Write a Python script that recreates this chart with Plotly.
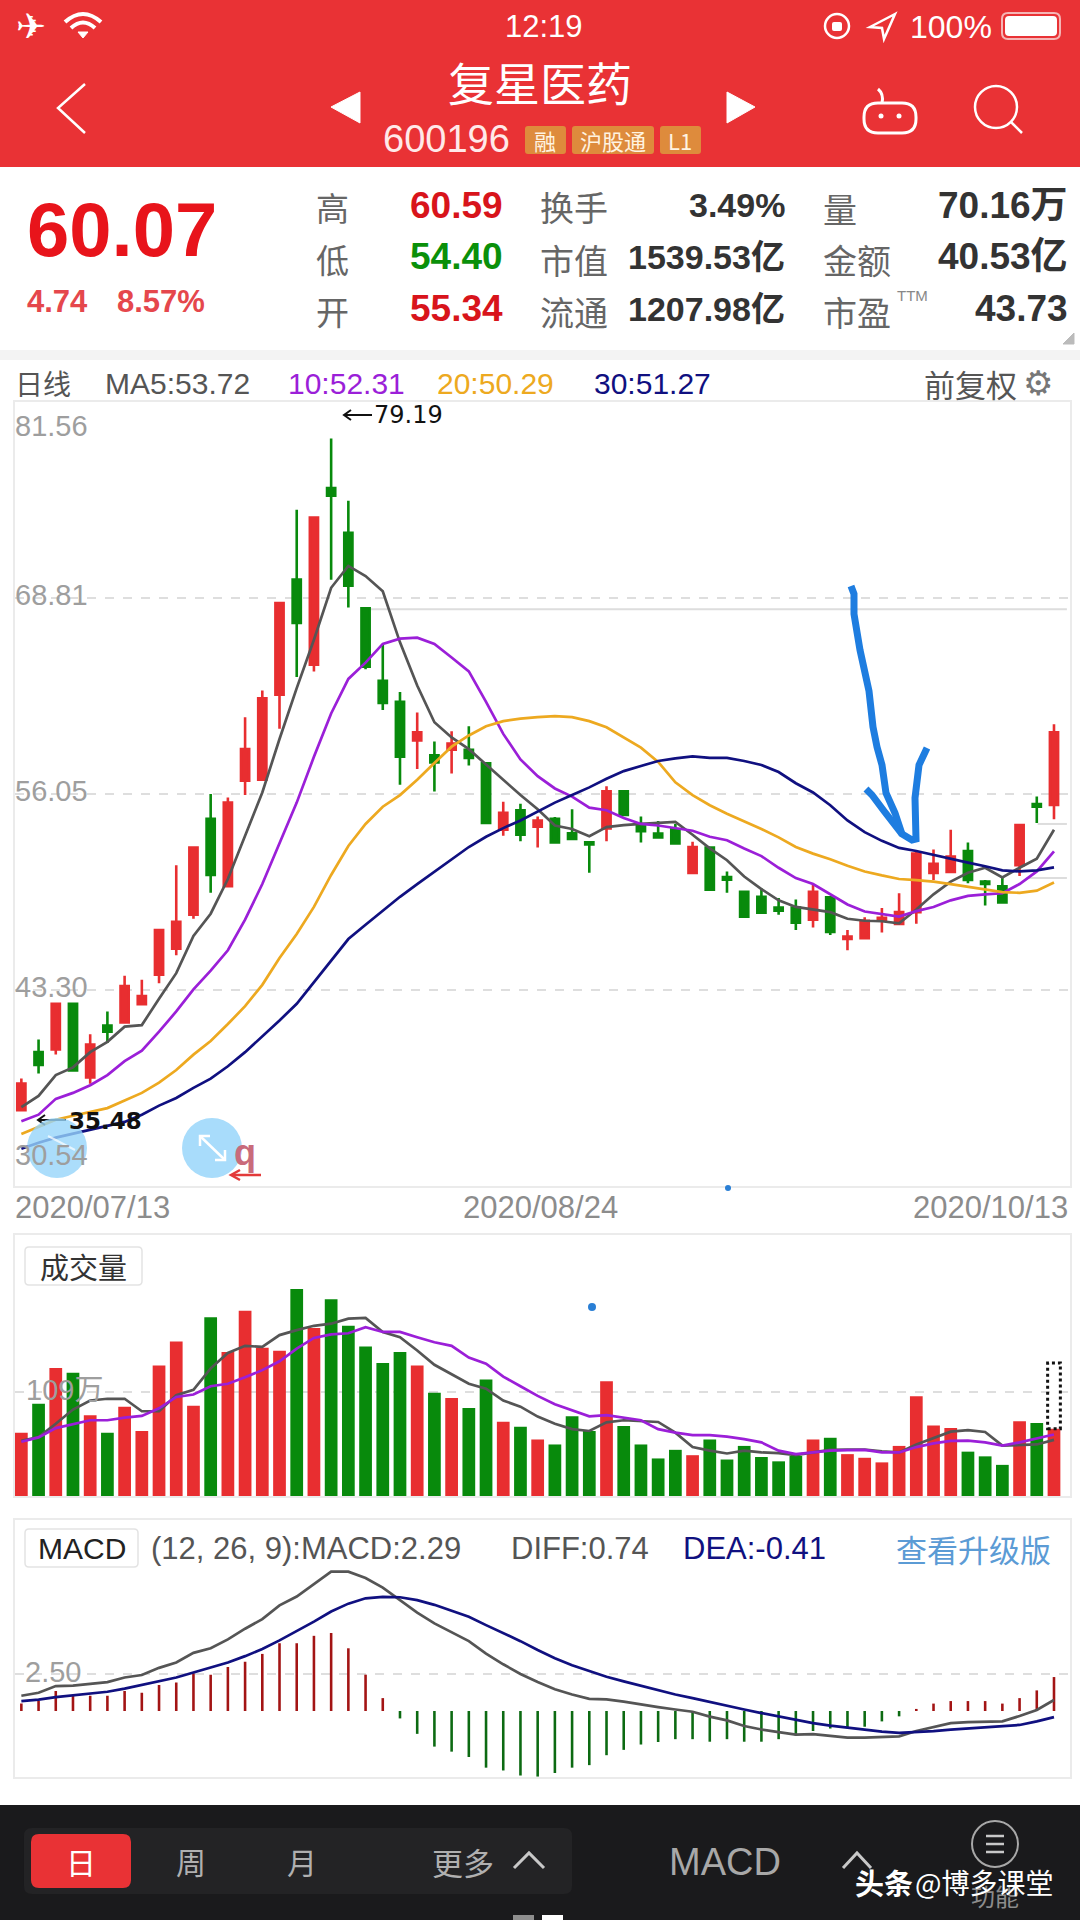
import plotly.graph_objects as go

# ---------- data ----------
days = list(range(61))
date_labels = ["2020/07/13", "2020/08/24", "2020/10/13"]
price_axis = [81.56, 68.81, 56.05, 43.30, 30.54]
price_grid = [68.81, 56.05, 43.30]
open_ = [35.48,39.25,39.42,42.40,37.60,40.98,41.18,42.37,44.29,45.98,48.20,54.43,50.05,56.91,56.98,62.51,70.00,64.47,75.96,73.05,68.14,63.41,62.05,59.53,58.57,58.93,58.93,58.04,53.73,54.99,53.93,54.43,53.50,52.90,53.80,56.22,53.96,53.47,53.76,50.92,52.57,50.65,49.69,49.36,48.66,48.66,47.87,49.32,46.61,46.67,47.80,47.60,48.36,50.92,50.98,52.34,50.35,50.05,51.41,55.39,55.34]
close = [37.20,38.42,42.40,38.06,39.75,40.58,43.56,42.90,47.20,47.73,52.57,50.78,55.49,58.97,62.28,68.47,67.18,74.04,75.46,69.60,64.33,61.98,58.47,60.06,58.10,59.33,58.40,54.16,54.82,53.40,54.33,52.90,53.13,52.77,56.22,54.69,53.63,53.23,52.84,52.60,49.82,50.48,48.07,48.33,48.46,47.67,49.69,47.07,46.77,47.80,48.00,48.36,52.17,51.51,51.98,50.45,50.19,48.99,54.03,55.22,60.07]
high = [37.53,40.08,42.40,42.40,40.41,41.90,44.22,43.96,47.20,51.41,52.57,56.05,55.82,61.05,62.78,68.47,74.54,74.04,79.19,75.13,68.14,65.76,62.68,61.35,59.46,60.13,60.46,58.04,55.55,55.42,54.59,54.56,55.06,52.90,56.55,56.22,54.59,54.30,54.10,52.94,52.57,51.01,49.69,49.92,49.29,49.19,50.12,49.32,47.20,48.03,48.63,49.59,52.34,52.44,53.73,52.90,50.45,50.58,54.03,55.88,60.59]
low = [35.48,37.86,39.09,38.06,37.20,39.85,41.18,42.37,43.73,45.55,47.93,49.62,50.05,55.98,56.98,60.29,63.67,64.03,70.00,68.18,64.17,61.52,56.65,57.67,56.22,57.38,57.91,54.16,53.33,52.98,52.57,52.84,53.10,50.92,52.97,54.69,52.90,53.23,52.74,50.92,49.82,49.62,48.07,48.33,48.20,47.20,47.37,46.87,45.88,46.61,47.04,47.60,47.60,50.45,50.92,50.25,48.80,48.93,50.72,54.16,54.40]
ma5 = [35.68,36.40,37.76,38.26,39.25,39.92,40.91,41.01,42.73,44.39,46.81,48.26,50.52,53.33,56.15,59.63,62.94,66.09,69.47,70.89,70.23,69.24,65.92,63.11,60.72,59.73,58.97,57.97,56.98,55.98,55.06,54.00,53.77,53.30,53.90,54.03,54.10,54.16,54.23,53.40,52.51,51.74,50.68,49.86,49.13,48.70,48.53,48.36,47.93,47.80,47.77,47.64,48.53,49.52,50.35,50.92,51.25,50.62,51.25,51.84,53.72]
ma10 = [34.75,35.18,36.21,36.60,37.10,37.76,38.66,39.35,40.58,41.90,43.33,44.55,45.88,47.87,50.19,52.84,55.49,58.47,61.29,63.54,64.60,65.82,66.16,66.22,65.82,64.93,64.03,62.05,59.96,58.30,57.21,56.41,55.88,55.16,54.99,54.49,54.10,54.00,53.83,53.66,53.27,53.04,52.51,52.01,51.25,50.58,50.19,49.52,48.86,48.40,48.26,48.07,48.43,48.70,49.13,49.42,49.52,49.59,50.19,51.01,52.31]
ma20 = [33.92,34.38,34.85,35.11,35.38,35.61,36.11,36.60,37.27,38.09,39.09,39.98,41.08,42.24,43.63,45.38,46.94,48.70,50.78,52.67,54.10,55.22,55.98,56.98,58.07,59.13,59.86,60.46,60.79,60.95,61.05,61.12,61.05,60.79,60.39,59.73,59.07,58.14,56.81,55.98,55.32,54.76,54.29,53.77,53.23,52.60,52.17,51.81,51.38,51.01,50.75,50.52,50.45,50.35,50.19,50.02,49.82,49.66,49.62,49.76,50.29]
ma30 = [32.96,33.36,33.69,33.95,34.22,34.45,34.71,35.18,35.77,36.27,36.93,37.53,38.33,39.25,40.25,41.31,42.40,43.79,45.22,46.61,47.54,48.46,49.36,50.19,51.01,51.84,52.60,53.27,53.83,54.33,54.89,55.49,55.98,56.48,57.04,57.54,57.87,58.20,58.37,58.50,58.40,58.40,58.20,57.94,57.48,56.75,56.15,55.32,54.33,53.57,53.00,52.54,52.34,52.08,51.84,51.58,51.35,51.08,51.01,51.08,51.27]
volume = [66.1,96.3,133.6,128.8,84.4,66.1,93.3,67.9,136.3,161.3,94.1,186.7,150.4,193.4,154.9,151.6,216.1,175.5,205.3,177.7,156.0,138.9,150.4,136.3,107.9,102.3,91.8,121.7,77.6,72.4,59.0,53.8,83.2,67.9,119.8,73.2,53.8,39.2,48.2,42.6,59.0,38.1,52.3,40.7,36.2,41.8,59.0,60.8,43.7,39.9,35.1,52.3,104.2,73.5,70.9,46.3,41.4,32.5,78.0,76.2,70.16]
vol_ma5 = [57.5,61.6,75.4,90.3,99.7,101.5,101.5,88.5,88.5,105.3,110.9,133.3,149.3,156.8,155.7,168.0,173.2,177.7,179.9,185.2,185.9,171.3,165.7,151.9,137.0,126.9,117.2,112.0,99.7,93.3,82.9,75.4,69.8,67.9,76.9,79.1,78.4,77.3,66.1,51.1,47.4,44.4,47.4,45.5,44.8,42.6,45.5,48.2,48.5,48.5,46.7,45.5,53.8,60.5,67.2,68.7,66.8,52.6,53.0,53.8,58.6]
vol_ma10 = [56.7,61.2,70.9,75.4,79.1,79.1,81.8,83.6,91.5,103.4,106.0,114.6,117.2,123.9,131.4,140.7,153.8,165.0,168.7,169.9,176.2,171.3,171.3,165.7,160.5,156.8,144.5,138.1,124.7,114.6,104.5,95.9,89.6,83.2,84.4,81.8,79.1,69.8,66.1,63.5,63.5,62.0,59.4,56.0,47.4,43.7,45.5,47.4,47.8,48.2,45.5,45.5,51.1,54.9,57.5,57.9,56.0,52.6,56.0,60.5,64.2]
vol_projected = 138.9
vol_grid = [109]
macd_hist = [0.50,0.67,1.35,1.03,1.03,1.03,1.35,1.23,1.75,1.92,2.55,2.45,2.96,3.32,3.85,4.57,4.57,5.07,5.26,4.23,2.45,0.87,-0.50,-1.54,-2.40,-2.74,-3.10,-3.82,-4.01,-4.35,-4.42,-4.18,-3.82,-3.65,-2.98,-2.62,-2.26,-2.09,-1.90,-1.90,-2.07,-1.90,-2.07,-2.07,-1.90,-1.66,-1.35,-1.18,-1.11,-1.06,-0.70,-0.36,0.14,0.50,0.67,0.67,0.67,0.50,0.87,1.39,2.29]
diff = [1.03,1.23,1.68,1.71,1.83,1.95,2.26,2.43,2.91,3.27,3.92,4.23,4.83,5.55,6.20,7.12,7.72,8.56,9.40,9.40,8.97,8.32,7.48,6.64,5.91,5.31,4.71,3.87,3.15,2.50,1.95,1.47,1.11,0.82,0.79,0.63,0.43,0.26,0.10,-0.05,-0.38,-0.63,-1.01,-1.25,-1.42,-1.59,-1.56,-1.68,-1.80,-1.80,-1.78,-1.71,-1.35,-1.06,-0.82,-0.75,-0.70,-0.70,-0.34,0.07,0.74]
dea = [0.67,0.77,0.94,1.06,1.18,1.30,1.51,1.75,2.00,2.26,2.60,2.91,3.27,3.70,4.18,4.76,5.39,6.03,6.71,7.24,7.60,7.69,7.67,7.48,7.16,6.76,6.35,5.79,5.26,4.71,4.11,3.56,3.08,2.67,2.31,2.00,1.71,1.39,1.11,0.87,0.63,0.38,0.10,-0.14,-0.38,-0.63,-0.82,-0.99,-1.13,-1.30,-1.39,-1.47,-1.42,-1.35,-1.25,-1.18,-1.11,-1.03,-0.94,-0.70,-0.41]
macd_grid = [2.50]

# ---------- style ----------
RED = "#E82E30"; GREEN = "#088A0C"; HEAD = "#E93235"
C5 = "#555555"; C10 = "#9B1FD8"; C20 = "#EDA920"; C30 = "#101080"
LAT = "Liberation Sans, Noto Sans CJK SC, sans-serif"
CJK = "Noto Sans CJK SC, sans-serif"
LINE_W = 2.7
W, H = 1080, 1920
def px(x): return x / W
def py(y): return 1 - y / H

fig = go.Figure()
bar_colors = [RED if c >= o else GREEN for o, c in zip(open_, close)]
hist_colors = ["#A31414" if v >= 0 else "#0C6A12" for v in macd_hist]

fig.add_trace(go.Candlestick(x=days, open=open_, high=high, low=low, close=close,
    xaxis="x", yaxis="y", whiskerwidth=0,
    increasing=dict(line=dict(color=RED, width=2.6), fillcolor=RED),
    decreasing=dict(line=dict(color=GREEN, width=2.6), fillcolor=GREEN)))
for series, col in ((ma5, C5), (ma10, C10), (ma20, C20), (ma30, C30)):
    fig.add_trace(go.Scatter(x=days, y=series, mode="lines", xaxis="x", yaxis="y",
                             line=dict(color=col, width=LINE_W)))
fig.add_trace(go.Bar(x=days, y=volume, xaxis="x2", yaxis="y2", width=0.74,
                     marker=dict(color=bar_colors, line=dict(width=0))))
for series, col in ((vol_ma5, C5), (vol_ma10, C10)):
    fig.add_trace(go.Scatter(x=days, y=series, mode="lines", xaxis="x2", yaxis="y2",
                             line=dict(color=col, width=LINE_W)))
fig.add_trace(go.Bar(x=days, y=macd_hist, xaxis="x3", yaxis="y3", width=0.15,
                     marker=dict(color=hist_colors, line=dict(width=0))))
for series, col in ((diff, C5), (dea, C30)):
    fig.add_trace(go.Scatter(x=days, y=series, mode="lines", xaxis="x3", yaxis="y3",
                             line=dict(color=col, width=LINE_W)))

shapes, notes = [], []
def text(x, y, s, size, color="#333333", anchor="center", font=LAT, bold=False, **kw):
    notes.append(dict(xref="paper", yref="paper", x=px(x), y=py(y), xanchor=anchor, yanchor="middle",
                      text=f"<b>{s}</b>" if bold else s, showarrow=False, borderpad=0, borderwidth=0,
                      font=dict(size=size, color=color, family=font), **kw))
def rect(x0, y0, x1, y1, fill, line=None, lw=0, layer="below"):
    shapes.append(dict(type="rect", xref="paper", yref="paper", x0=px(x0), x1=px(x1), y0=py(y0), y1=py(y1),
                       fillcolor=fill, line=dict(color=line or fill, width=lw), layer=layer))
def rrect(x0, y0, x1, y1, r, fill, line=None, lw=0, layer="below"):
    P = lambda x, y: f"{px(x):.5f},{py(y):.5f}"
    d = (f"M {P(x0+r,y0)} L {P(x1-r,y0)} Q {P(x1,y0)} {P(x1,y0+r)} L {P(x1,y1-r)} Q {P(x1,y1)} {P(x1-r,y1)} "
         f"L {P(x0+r,y1)} Q {P(x0,y1)} {P(x0,y1-r)} L {P(x0,y0+r)} Q {P(x0,y0)} {P(x0+r,y0)} Z")
    shapes.append(dict(type="path", xref="paper", yref="paper", path=d, fillcolor=fill,
                       line=dict(color=line or fill, width=lw), layer=layer))
def poly(pts, color, lw=2, fill=None, close_=False, layer="above"):
    d = "M " + " L ".join(f"{px(x):.5f},{py(y):.5f}" for x, y in pts) + (" Z" if close_ else "")
    shapes.append(dict(type="path", xref="paper", yref="paper", path=d, fillcolor=fill or "rgba(0,0,0,0)",
                       line=dict(color=color, width=lw), layer=layer))
def curve(a, c, b, color, lw):
    d = f"M {px(a[0]):.5f},{py(a[1]):.5f} Q {px(c[0]):.5f},{py(c[1]):.5f} {px(b[0]):.5f},{py(b[1]):.5f}"
    shapes.append(dict(type="path", xref="paper", yref="paper", path=d, fillcolor="rgba(0,0,0,0)",
                       line=dict(color=color, width=lw), layer="above"))
def circle(cx, cy, r, fill="rgba(0,0,0,0)", line="rgba(0,0,0,0)", lw=0, layer="above"):
    shapes.append(dict(type="circle", xref="paper", yref="paper", x0=px(cx-r), x1=px(cx+r), y0=py(cy-r), y1=py(cy+r),
                       fillcolor=fill, line=dict(color=line, width=lw), layer=layer))

# ---------- header ----------
rect(0, 0, W, 167, HEAD)
rect(0, 350, W, 360, "#F3F3F3")
text(31, 26, "✈", 36, "white", font="DejaVu Sans")
curve((65, 22), (83, 6), (101, 22), "white", 4)
curve((71, 28), (83, 17), (95, 28), "white", 4)
poly([(78, 32), (88, 32), (83, 38)], "white", 1, "white", True)
text(544, 27, "12:19", 31, "white")
circle(837, 26, 12, line="white", lw=2.5)
rrect(832, 22, 842, 31, 2, "white", layer="above")
poly([(895, 14), (870, 27), (882, 28), (884, 39)], "white", 2.5, None, True)
text(951, 27, "100%", 32, "white")
rrect(1002, 13, 1060, 39, 6, "rgba(0,0,0,0)", "#F5B5B5", 2, "above")
rrect(1005, 16, 1057, 36, 4, "white", layer="above")
text(540, 81, "复星医药", 46, "white", font=CJK)
poly([(85, 84), (58, 108), (85, 133)], "white", 2.5)
poly([(360, 92), (331, 107), (360, 123)], "white", 1, "white", True)
poly([(727, 92), (755, 107), (727, 123)], "white", 1, "white", True)
text(446, 139, "600196", 38, "#FFE9E9")
for x0, x1, s in ((525, 566, "融"), (572, 654, "沪股通"), (660, 701, "L1")):
    rrect(x0, 126, x1, 154, 3, "#DE8B3C")
    text((x0 + x1) / 2, 140, s, 22, "#FFF3E0", font=CJK)
rrect(864, 103, 916, 133, 14, "rgba(0,0,0,0)", "white", 3, "above")
curve((882, 103), (884, 94), (878, 89), "white", 3)
circle(881, 116, 2.5, fill="white"); circle(899, 116, 2.5, fill="white")
circle(996, 107, 21, line="white", lw=2.5)
poly([(1011, 122), (1022, 133)], "white", 2.5)

# ---------- quote block ----------
text(122, 229, "60.07", 76, "#E8141B", bold=True)
text(27, 302, "<b>4.74</b>", 31, "#E5474C", "left")
text(117, 302, "<b>8.57%</b>", 31, "#E5474C", "left")
rows = (207, 259, 311)
for y, lab, val, col in zip(rows, "高低开", ("60.59", "54.40", "55.34"), ("#D8141B", "#0A900A", "#D8141B")):
    text(332, y, lab, 33, "#666666", font=CJK)
    text(503, y - 2, val, 37, col, "right", bold=True)
for y, lab, val in zip(rows, ("换手", "市值", "流通"), ("3.49%", "1539.53亿", "1207.98亿")):
    text(540, y, lab, 34, "#666666", "left", font=CJK)
    text(785, y - 2, val, 34, "#333333", "right", bold=True)
for y, lab, val in zip(rows, ("量", "金额", "市盈"), ("70.16万", "40.53亿", "43.73")):
    text(823, y + 1, lab, 34, "#666666", "left", font=CJK)
    text(1068, y - 2, val, 37, "#333333", "right", bold=True)
text(912, 295, "TTM", 15, "#888888")
poly([(1074, 333), (1074, 344), (1063, 344)], "#BBBBBB", 1, "#BBBBBB", True)

# ---------- MA legend ----------
text(15, 383, "日线", 28, "#555555", "left", font=CJK)
text(105, 383, "MA5:53.72", 30, "#555555", "left")
text(288, 383, "10:52.31", 30, C10, "left")
text(437, 383, "20:50.29", 30, C20, "left")
text(594, 383, "30:51.27", 30, C30, "left")
text(924, 383, "前复权", 31, "#555555", "left", font=CJK)
text(1038, 383, "⚙", 34, "#777777", font="DejaVu Sans")

# ---------- main panel decoration ----------
for val, yshift in zip(price_axis, (-24, 3, 3, 3, 31)):
    notes.append(dict(xref="paper", yref="y", x=px(15), y=val, xanchor="left", yanchor="middle", yshift=yshift,
                      text=f"{val:.2f}", showarrow=False, borderpad=0, borderwidth=0,
                      font=dict(size=29, color="#9E9E9E", family=LAT)))
text(15, 1207, date_labels[0], 31, "#8C8C8C", "left")
text(540, 1207, date_labels[1], 31, "#8C8C8C")
text(1068, 1207, date_labels[2], 31, "#8C8C8C", "right")
poly([(344, 415), (372, 415)], "#111111", 2)
poly([(351, 410), (344, 415), (351, 420)], "#111111", 2)
text(374, 415, "79.19", 24, "#111111", "left", font="DejaVu Sans")
poly([(38, 1120), (66, 1120)], "#111111", 2)
poly([(45, 1115), (38, 1120), (45, 1125)], "#111111", 2)
text(69, 1121, "35.48", 23, "#111111", "left", font="DejaVu Sans", bold=True)
shapes.append(dict(type="line", xref="x", yref="y", x0=20.3, x1=60.75, y0=68.08, y1=68.08,
                   line=dict(color="#DDDDDD", width=2), layer="below"))
shapes.append(dict(type="line", xref="x", yref="y", x0=59.05, x1=60.75, y0=54.10, y1=54.10,
                   line=dict(color="#DDDDDD", width=2), layer="below"))
shapes.append(dict(type="line", xref="x", yref="y", x0=58.4, x1=60.75, y0=50.58, y1=50.58,
                   line=dict(color="#DDDDDD", width=2), layer="below"))
circle(57, 1148, 30, fill="rgba(150,212,250,0.8)")
circle(212, 1148, 30, fill="#A8DCFB")
poly([(200, 1136), (225, 1160)], "white", 2.5)
poly([(200, 1146), (200, 1136), (210, 1136)], "white", 2.5)
poly([(215, 1160), (225, 1160), (225, 1150)], "white", 2.5)
poly([(48, 1136), (75, 1150)], "rgba(255,255,255,0.7)", 2)
text(245, 1152, "q", 36, "#C96B7B", bold=True)
poly([(232, 1175), (261, 1175)], "#E33A3A", 2.5)
poly([(240, 1170), (231, 1175), (240, 1180)], "#E33A3A", 2.5)

# hand-drawn blue arrow
arrow = [(851,586),(854,594),(854,614),(860,650),(869,691),(873,727),(877,747),(882,765),(886,793),(895,813),(902,834),(912,840),(916,839),(915,798),(919,765),(927,748)]
barb = [(866,789),(872,795),(884,811),(902,834)]
poly(arrow, "#1E7DE0", 7); poly(barb, "#1E7DE0", 7)
circle(728, 1188, 3, fill="#2A7FD5")
circle(592, 1307, 4, fill="#2A7FD5")

# ---------- volume panel decoration ----------
rrect(25, 1247, 142, 1285, 4, "white", "#E3E3E3", 1.5, "above")
text(83, 1266, "成交量", 29, "#333333", font=CJK)
notes.append(dict(xref="paper", yref="y2", x=px(26), y=vol_grid[0], xanchor="left", yanchor="middle", yshift=2,
                  text=f"{vol_grid[0]}万", showarrow=False, borderpad=0, borderwidth=0,
                  font=dict(size=29, color="#9E9E9E", family=LAT)))
shapes.append(dict(type="rect", xref="x2", yref="y2", x0=59.63, x1=60.37, y0=volume[-1], y1=vol_projected,
                   line=dict(color="#111111", width=3, dash="dot"), fillcolor="rgba(0,0,0,0)", layer="above"))

# ---------- MACD panel decoration ----------
rrect(25, 1529, 138, 1567, 4, "white", "#E3E3E3", 1.5, "above")
text(82, 1548, "MACD", 30, "#222222")
text(151, 1548, "(12, 26, 9):MACD:2.29", 31, "#555555", "left")
text(511, 1548, "DIFF:0.74", 31, "#555555", "left")
text(683, 1548, "DEA:-0.41", 31, C30, "left")
text(896, 1548, "查看升级版", 31, "#5B9BD5", "left", font=CJK)
notes.append(dict(xref="paper", yref="y3", x=px(25), y=macd_grid[0], xanchor="left", yanchor="middle", yshift=2,
                  text=f"{macd_grid[0]:.2f}", showarrow=False, borderpad=0, borderwidth=0,
                  font=dict(size=29, color="#9E9E9E", family=LAT)))

# ---------- bottom bar ----------
rect(0, 1805, W, H, "#1A1A1C", layer="above")
rrect(24, 1828, 572, 1894, 8, "#232325", layer="above")
rrect(31, 1834, 131, 1888, 8, HEAD, layer="above")
text(81, 1861, "日", 30, "white", font=CJK)
text(191, 1861, "周", 30, "#B0B0B0", font=CJK)
text(302, 1861, "月", 30, "#B0B0B0", font=CJK)
text(463, 1861, "更多", 31, "#B0B0B0", font=CJK)
poly([(514, 1868), (529, 1853), (544, 1868)], "#C8C8C8", 3)
text(725, 1862, "MACD", 38, "#A8A8A8")
poly([(843, 1868), (857, 1853), (871, 1868)], "#C8C8C8", 3)
circle(995, 1844, 23, line="#A8A8A8", lw=2)
for y in (1836, 1844, 1852):
    poly([(986, y), (1004, y)], "#C8C8C8", 2.5)
text(995, 1895, "功能", 24, "#8C8C8C", font=CJK)
text(855, 1882, "头条", 29, "white", "left", font=CJK, bold=True)
text(915, 1882, "@博多课堂", 28, "white", "left", font=CJK)
rect(513, 1915, 534, H, "#8E8E8E", layer="above")
rect(542, 1915, 563, H, "white", layer="above")

# ---------- axes ----------
dom_x = [px(14.5), px(1070)]
x_range = [-0.398, 60.93]
def xa(anchor):
    return dict(domain=dom_x, range=x_range, anchor=anchor, showticklabels=False, showgrid=False, zeroline=False,
                showline=True, mirror=True, linecolor="#EBEBEB", linewidth=2, ticks="", rangeslider=dict(visible=False),
                fixedrange=True)
def ya(anchor, dom, rng, grid):
    return dict(domain=dom, range=rng, anchor=anchor, tickvals=grid, showticklabels=False, showgrid=True,
                gridcolor="#DEDEDE", gridwidth=1.5, griddash="dash", zeroline=False, showline=True, mirror=True,
                linecolor="#EBEBEB", linewidth=2, ticks="", fixedrange=True)

fig.update_layout(
    width=W, height=H, margin=dict(l=0, r=0, t=0, b=0), autosize=False,
    paper_bgcolor="white", plot_bgcolor="rgba(0,0,0,0)", showlegend=False, hovermode=False,
    bargap=0.26, boxgap=0.32, barmode="overlay",
    xaxis=xa("y"), xaxis2=xa("y2"), xaxis3=xa("y3"),
    yaxis=ya("x", [py(1186), py(402)], [30.54, 81.56], price_grid),
    yaxis2=ya("x2", [py(1496), py(1235)], [0, 272.5], vol_grid),
    yaxis3=ya("x3", [py(1777), py(1520)], [-4.45, 12.88], macd_grid),
    shapes=shapes, annotations=notes,
)
fig.write_html("out.html", config=dict(displayModeBar=False),
               post_script="document.body.style.margin='0';document.documentElement.style.overflow='hidden';")
